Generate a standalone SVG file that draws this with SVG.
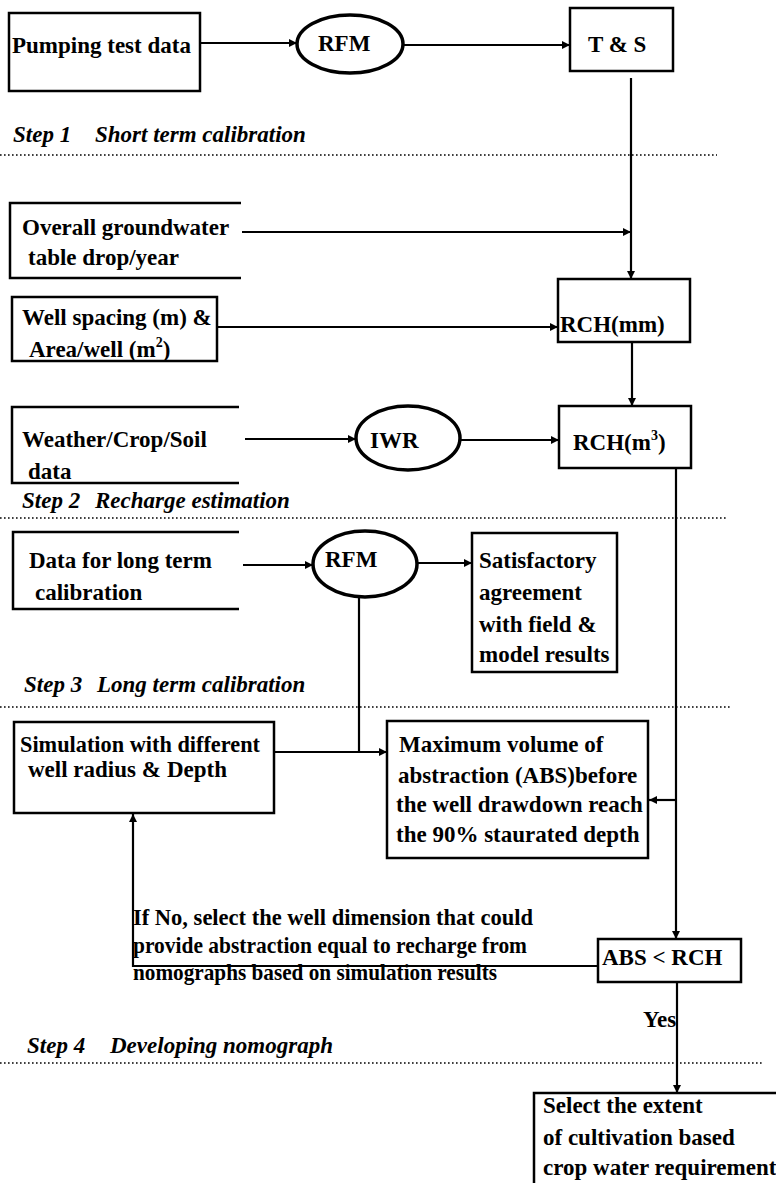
<svg xmlns="http://www.w3.org/2000/svg" width="776" height="1183" viewBox="0 0 776 1183">
<defs>
<marker id="ah" viewBox="0 0 10 10" refX="10" refY="5" markerWidth="9" markerHeight="8" markerUnits="userSpaceOnUse" orient="auto">
<path d="M0,0 L10,5 L0,10 Z" fill="#000"/>
</marker>
<style>
.box{fill:none;stroke:#000;stroke-width:2.5}
.ell{fill:none;stroke:#000;stroke-width:3.5}
.t{font-family:"Liberation Serif","Times New Roman",serif;font-size:23px;font-weight:bold;fill:#000}
.st{font-family:"Liberation Serif","Times New Roman",serif;font-size:23px;font-weight:bold;font-style:italic;fill:#000}
.c{fill:none;stroke:#000;stroke-width:2.2}
.dot{fill:none;stroke:#000;stroke-width:1.6;stroke-dasharray:1.6 2.4}
</style>
</defs>
<rect width="776" height="1183" fill="#fff"/>

<g id="steps">
<text class="st" x="13" y="142">Step 1</text><text class="st" x="95" y="142">Short term calibration</text>
<line class="dot" x1="0" y1="155" x2="717" y2="155"/>
<text class="st" x="22" y="508">Step 2</text><text class="st" x="95" y="508">Recharge estimation</text>
<line class="dot" x1="0" y1="518" x2="728" y2="518"/>
<text class="st" x="24" y="692">Step 3</text><text class="st" x="97" y="692">Long term calibration</text>
<line class="dot" x1="0" y1="707" x2="732" y2="707"/>
<text class="st" x="27" y="1053">Step 4</text><text class="st" x="110" y="1053">Developing nomograph</text>
<line class="dot" x1="0" y1="1063" x2="762" y2="1063"/>
</g>

<g id="connectors">
<line class="c" x1="200" y1="43" x2="297" y2="43" marker-end="url(#ah)"/>
<line class="c" x1="403" y1="45" x2="570" y2="45" marker-end="url(#ah)"/>
<line class="c" x1="631" y1="78" x2="631" y2="279" marker-end="url(#ah)"/>
<line class="c" x1="242" y1="232" x2="631" y2="232" marker-end="url(#ah)"/>
<line class="c" x1="217" y1="327" x2="558" y2="327" marker-end="url(#ah)"/>
<line class="c" x1="632" y1="342" x2="632" y2="406" marker-end="url(#ah)"/>
<line class="c" x1="245" y1="439" x2="356" y2="439" marker-end="url(#ah)"/>
<line class="c" x1="460" y1="440" x2="559" y2="440" marker-end="url(#ah)"/>
<line class="c" x1="676" y1="468" x2="676" y2="939" marker-end="url(#ah)"/>
<line class="c" x1="676" y1="800" x2="649" y2="800" marker-end="url(#ah)"/>
<line class="c" x1="243" y1="565" x2="313" y2="565" marker-end="url(#ah)"/>
<line class="c" x1="417" y1="563" x2="472" y2="563" marker-end="url(#ah)"/>
<line class="c" x1="359" y1="597" x2="359" y2="752"/>
<line class="c" x1="274" y1="752" x2="387" y2="752" marker-end="url(#ah)"/>
<polyline class="c" points="598,966 133,966 133,814" marker-end="url(#ah)"/>
<line class="c" x1="677" y1="982" x2="677" y2="1093" marker-end="url(#ah)"/>
</g>

<g id="pumping">
<rect class="box" x="9" y="13" width="191" height="78"/>
<text class="t" x="12" y="53">Pumping test data</text>
</g>
<g id="rfm1">
<ellipse class="ell" cx="350" cy="44" rx="53" ry="29"/>
<text class="t" x="318" y="51">RFM</text>
</g>
<g id="ts">
<rect class="box" x="570" y="8" width="103" height="63"/>
<text class="t" x="588" y="52">T &amp; S</text>
</g>
<g id="overall">
<path class="box" d="M241,203 H10 V278 H241"/>
<text class="t" x="22" y="235">Overall groundwater</text>
<text class="t" x="28" y="265">table drop/year</text>
</g>
<g id="wellspacing">
<rect class="box" x="12" y="297" width="205" height="64"/>
<text class="t" x="22" y="325">Well spacing (m) &amp;</text>
<text class="t" x="29" y="357">Area/well (m<tspan dy="-10" font-size="14">2</tspan><tspan dy="10">)</tspan></text>
</g>
<g id="rchmm">
<rect class="box" x="558" y="279" width="132" height="63"/>
<text class="t" x="560" y="332">RCH(mm)</text>
</g>
<g id="weather">
<path class="box" d="M239,407 H12 V483 H239"/>
<text class="t" x="22" y="447">Weather/Crop/Soil</text>
<text class="t" x="28" y="479">data</text>
</g>
<g id="iwr">
<ellipse class="ell" cx="408" cy="438" rx="52" ry="32"/>
<text class="t" x="370" y="448">IWR</text>
</g>
<g id="rchm3">
<rect class="box" x="559" y="406" width="132" height="62"/>
<text class="t" x="573" y="450">RCH(m<tspan dy="-10" font-size="14">3</tspan><tspan dy="10">)</tspan></text>
</g>
<g id="datalong">
<path class="box" d="M239,532 H13 V609 H239"/>
<text class="t" x="29" y="568">Data for long term</text>
<text class="t" x="35" y="600">calibration</text>
</g>
<g id="rfm2">
<ellipse class="ell" cx="365" cy="564" rx="52" ry="33"/>
<text class="t" x="325" y="567">RFM</text>
</g>
<g id="satisfactory">
<rect class="box" x="472" y="533" width="145" height="139"/>
<text class="t" x="479" y="568">Satisfactory</text>
<text class="t" x="479" y="600">agreement</text>
<text class="t" x="479" y="632">with field &amp;</text>
<text class="t" x="479" y="662">model results</text>
</g>
<g id="simulation">
<rect class="box" x="14" y="722" width="260" height="91"/>
<text class="t" x="20" y="752" textLength="240" lengthAdjust="spacingAndGlyphs">Simulation with different</text>
<text class="t" x="28" y="777">well radius &amp;<tspan x="167">Depth</tspan></text>
</g>
<g id="maximum">
<rect class="box" x="387" y="721" width="261" height="137"/>
<text class="t" x="399" y="752">Maximum volume of</text>
<text class="t" x="398" y="783">abstraction (ABS)before</text>
<text class="t" x="396" y="812">the well drawdown reach</text>
<text class="t" x="396" y="842">the 90% staurated depth</text>
</g>
<g id="ifno">
<text class="t" x="133" y="925" textLength="400" lengthAdjust="spacingAndGlyphs">If No, select the well dimension that could</text>
<text class="t" x="133" y="953" textLength="394" lengthAdjust="spacingAndGlyphs">provide abstraction equal to recharge from</text>
<text class="t" x="133" y="980" textLength="364" lengthAdjust="spacingAndGlyphs">nomographs based on simulation results</text>
</g>
<g id="absrch">
<rect class="box" x="598" y="939" width="143" height="43"/>
<text class="t" x="602" y="965">ABS &lt; RCH</text>
</g>
<g id="yes">
<text class="t" x="643" y="1027">Yes</text>
</g>
<g id="select">
<rect class="box" x="534" y="1093" width="250" height="100"/>
<text class="t" x="543" y="1113">Select the extent</text>
<text class="t" x="543" y="1145">of cultivation based</text>
<text class="t" x="543" y="1175">crop water requirement</text>
</g>
</svg>
